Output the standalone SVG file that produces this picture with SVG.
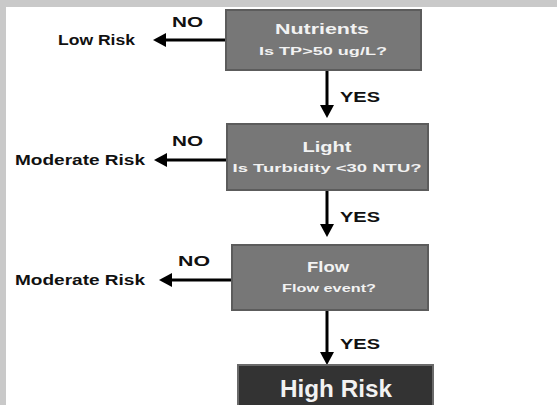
<svg xmlns="http://www.w3.org/2000/svg" width="557" height="405" viewBox="0 0 557 405">
  <defs>
    <marker id="head" viewBox="0 0 13 14" markerWidth="13" markerHeight="14" refX="1" refY="7" orient="auto" markerUnits="userSpaceOnUse">
      <path d="M0,0 L13,7 L0,14 Z" fill="#000"/>
    </marker>
    <style>
      .box { fill: #777777; stroke: #5c5c5c; stroke-width: 2; }
      .inner { fill: none; stroke: #8a8a8a; stroke-width: 1; }
      .final { fill: #333333; stroke: #6a6a6a; stroke-width: 2; }
      .title { font-family: "Liberation Sans", Arial, sans-serif; font-weight: bold; font-size: 15px; fill: #f2f2f2; text-anchor: middle; }
      .sub { font-family: "Liberation Sans", Arial, sans-serif; font-weight: bold; font-size: 11px; fill: #f2f2f2; text-anchor: middle; }
      .big { font-family: "Liberation Sans", Arial, sans-serif; font-weight: bold; font-size: 24px; fill: #f2f2f2; text-anchor: middle; }
      .lbl { font-family: "Liberation Sans", Arial, sans-serif; font-weight: bold; font-size: 15px; fill: #111; }
      .out { font-family: "Liberation Sans", Arial, sans-serif; font-weight: bold; font-size: 14px; fill: #111; }
      .arrow { stroke: #000; stroke-width: 3; fill: none; marker-end: url(#head); }
    </style>
  </defs>

  <!-- page background with frame bands -->
  <rect x="0" y="0" width="557" height="405" fill="#ffffff"/>
  <rect x="0" y="0" width="557" height="7" fill="#c9c9c9"/>
  <rect x="0" y="0" width="6" height="405" fill="#c9c9c9"/>

  <g id="connectors">
    <!-- YES paths -->
    <line class="arrow" x1="327" y1="70" x2="327" y2="106"/>
    <line class="arrow" x1="327" y1="190" x2="327" y2="225"/>
    <line class="arrow" x1="327" y1="310" x2="327" y2="353"/>
    <!-- NO paths -->
    <line class="arrow" x1="226" y1="40" x2="165" y2="40"/>
    <line class="arrow" x1="227" y1="160" x2="166" y2="160"/>
    <line class="arrow" x1="232" y1="280" x2="171" y2="280"/>

    <text class="lbl" x="340" y="102" textLength="40" lengthAdjust="spacingAndGlyphs">YES</text>
    <text class="lbl" x="340" y="222" textLength="40" lengthAdjust="spacingAndGlyphs">YES</text>
    <text class="lbl" x="340" y="349" textLength="40" lengthAdjust="spacingAndGlyphs">YES</text>

    <text class="lbl" x="172" y="27" textLength="31" lengthAdjust="spacingAndGlyphs">NO</text>
    <text class="lbl" x="172" y="146" textLength="31" lengthAdjust="spacingAndGlyphs">NO</text>
    <text class="lbl" x="178" y="266" textLength="32" lengthAdjust="spacingAndGlyphs">NO</text>
  </g>

  <g id="low-risk">
    <text class="out" x="58" y="45" textLength="77" lengthAdjust="spacingAndGlyphs">Low Risk</text>
  </g>
  <g id="moderate-risk-light">
    <text class="out" x="15" y="165" textLength="130" lengthAdjust="spacingAndGlyphs">Moderate Risk</text>
  </g>
  <g id="moderate-risk-flow">
    <text class="out" x="15" y="285" textLength="130" lengthAdjust="spacingAndGlyphs">Moderate Risk</text>
  </g>

  <g id="nutrients">
    <rect class="box" x="226" y="10" width="195" height="60"/>
    <text class="title" x="322" y="34" textLength="94" lengthAdjust="spacingAndGlyphs">Nutrients</text>
    <text class="sub" x="323" y="55" textLength="128" lengthAdjust="spacingAndGlyphs">Is TP&gt;50 ug/L?</text>
  </g>

  <g id="light">
    <rect class="box" x="227" y="124" width="201" height="66"/>
    <text class="title" x="327" y="152" textLength="49" lengthAdjust="spacingAndGlyphs">Light</text>
    <text class="sub" x="327" y="172" textLength="189" lengthAdjust="spacingAndGlyphs">Is Turbidity &lt;30 NTU?</text>
  </g>

  <g id="flow">
    <rect class="box" x="232" y="245" width="196" height="65"/>
    <text class="title" x="328" y="272" textLength="42" lengthAdjust="spacingAndGlyphs">Flow</text>
    <text class="sub" x="329" y="292" textLength="94" lengthAdjust="spacingAndGlyphs">Flow event?</text>
  </g>

  <g id="high-risk">
    <rect class="final" x="238" y="365" width="195" height="45"/>
    <text class="big" x="336" y="397" textLength="112" lengthAdjust="spacingAndGlyphs">High Risk</text>
  </g>
</svg>
